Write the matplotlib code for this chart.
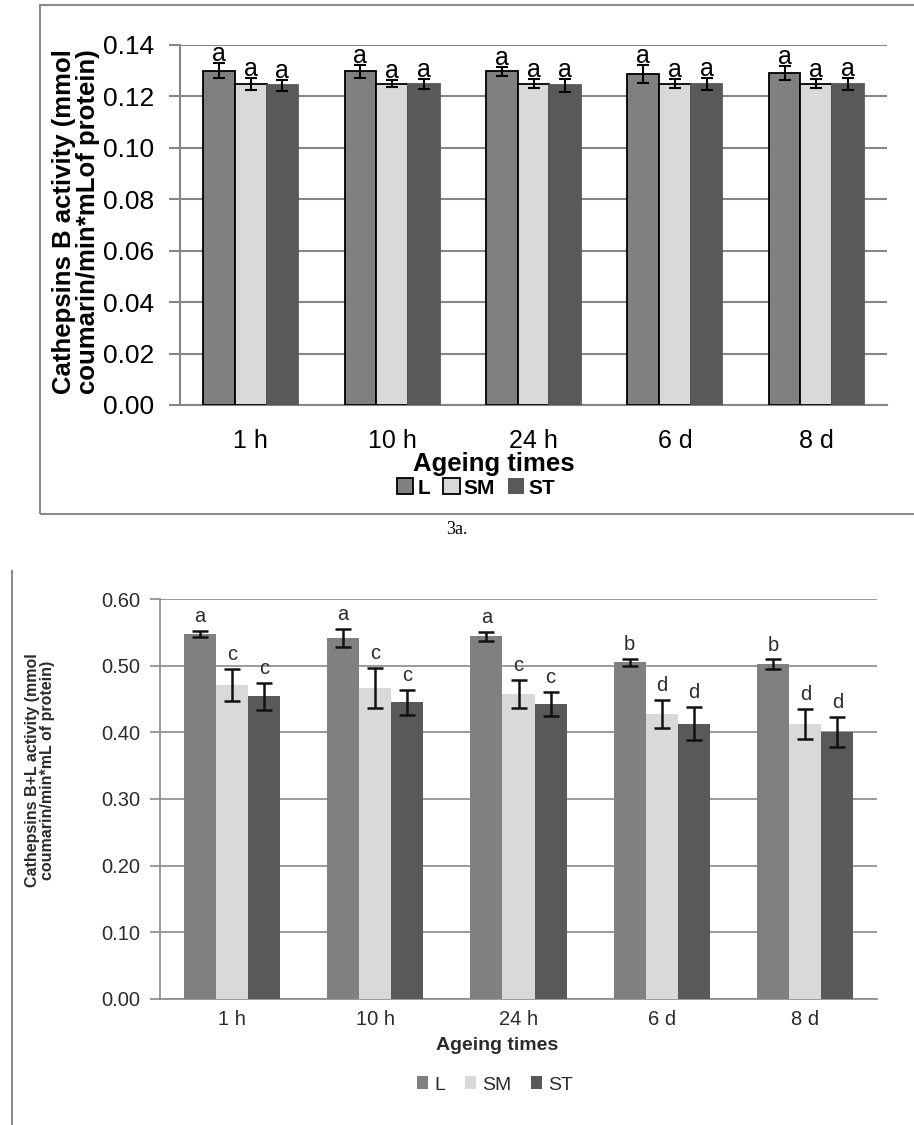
import matplotlib

matplotlib.use("Agg")
import matplotlib.pyplot as plt
import numpy as np
from matplotlib.lines import Line2D
from matplotlib.patches import Patch, Rectangle

plt.rcParams["font.family"] = ["Liberation Sans", "DejaVu Sans"]

times = ["1 h", "10 h", "24 h", "6 d", "8 d"]
groups = ["L", "SM", "ST"]
colors = ["#808080", "#d9d9d9", "#595959"]

# cathepsin B activity (upper chart)
b_mean = {
    "L": [0.1300, 0.1298, 0.1298, 0.1288, 0.1292],
    "SM": [0.1249, 0.1250, 0.1250, 0.1250, 0.1250],
    "ST": [0.1243, 0.1248, 0.1243, 0.1248, 0.1248],
}
b_err = {
    "L": [0.0030, 0.0025, 0.0018, 0.0034, 0.0027],
    "SM": [0.0023, 0.0012, 0.0016, 0.0016, 0.0016],
    "ST": [0.0020, 0.0020, 0.0025, 0.0024, 0.0023],
}
b_letters = {
    "L": ["a", "a", "a", "a", "a"],
    "SM": ["a", "a", "a", "a", "a"],
    "ST": ["a", "a", "a", "a", "a"],
}

# cathepsin B+L activity (lower chart)
bl_mean = {
    "L": [0.5475, 0.5415, 0.5440, 0.5050, 0.5025],
    "SM": [0.4714, 0.4665, 0.4575, 0.4280, 0.4130],
    "ST": [0.4539, 0.4450, 0.4425, 0.4130, 0.4005],
}
bl_err = {
    "L": [0.005, 0.0135, 0.007, 0.005, 0.007],
    "SM": [0.024, 0.030, 0.021, 0.021, 0.0225],
    "ST": [0.020, 0.019, 0.018, 0.025, 0.023],
}
bl_letters = {
    "L": ["a", "a", "a", "b", "b"],
    "SM": ["c", "c", "c", "d", "d"],
    "ST": ["c", "c", "c", "d", "d"],
}

W, H = 914, 1125
fig = plt.figure(figsize=(W / 100, H / 100), dpi=100)


def fx(px):
    return px / W


def fy(py):
    return 1 - py / H


x = np.arange(len(times))
width = 0.224
offsets = [-width, 0.0, width]

# ---- upper chart ----
grid_c = "#868686"
ax1 = fig.add_axes([fx(180), fy(405), fx(887) - fx(180), fy(45) - fy(405)])
edges = ["black", "black", "#595959"]
for g, off, c, ec in zip(groups, offsets, colors, edges):
    ax1.bar(x + off, b_mean[g], width, color=c, edgecolor=ec, linewidth=1.3, zorder=3)
    ax1.errorbar(x + off, b_mean[g], yerr=b_err[g], fmt="none", ecolor="black",
                 elinewidth=1.5, capsize=4.3, capthick=1.5, zorder=4)
    for xi, m, e, t in zip(x + off, b_mean[g], b_err[g], b_letters[g]):
        ax1.text(xi, m + e + 0.0008, t, ha="center", va="baseline", fontsize=18, zorder=5)

ax1.set_xlim(-0.5, 4.5)
ax1.set_ylim(0, 0.14)
ax1.set_yticks(np.arange(0, 0.1401, 0.02))
ax1.set_yticklabels([f"{v:.2f}" for v in np.arange(0, 0.1401, 0.02)], fontsize=19)
ax1.set_xticks(x)
ax1.set_xticklabels(times, fontsize=18)
ax1.tick_params(axis="x", length=0, pad=17)
ax1.tick_params(axis="y", length=8, width=1.5, color=grid_c, pad=10.5)
ax1.grid(axis="y", color=grid_c, linewidth=1.5, zorder=0)
ax1.set_axisbelow(True)
for s in ["top", "right"]:
    ax1.spines[s].set_visible(False)
for s in ["left", "bottom"]:
    ax1.spines[s].set_color(grid_c)
    ax1.spines[s].set_linewidth(1.5)

fig.text(fx(76), fy(222), "Cathepsins B activity (mmol\ncoumarin/min*mLof protein)",
         rotation=90, ha="center", va="center", fontsize=18.5, fontweight="bold",
         multialignment="center", linespacing=0.95)
fig.text(fx(494), fy(464), "Ageing times", ha="center", va="center",
         fontsize=18.5, fontweight="bold")
top_handles = [Patch(facecolor=c, edgecolor=ec, linewidth=1.3)
               for c, ec in zip(colors, ["black", "black", "none"])]
fig.legend(top_handles, groups, loc="center", bbox_to_anchor=(fx(476), fy(488)),
           ncol=3, frameon=False, handlelength=0.8, handleheight=0.8,
           handletextpad=0.2, columnspacing=0.6, borderpad=0,
           prop={"weight": "bold", "size": 15})

fig.add_artist(Rectangle((fx(40), fy(514)), 1.0, fy(5) - fy(514),
                         transform=fig.transFigure, fill=False,
                         edgecolor="#8c8c8c", linewidth=1.5))

fig.text(0.5, fy(530), "3a.", ha="center", va="center", fontsize=13,
         family=["Liberation Serif", "DejaVu Serif"])

# ---- lower chart ----
txt_c = "#2b2b2b"
grid2 = "#8a8a8a"
ax2 = fig.add_axes([fx(160), fy(999), fx(877) - fx(160), fy(599) - fy(999)])
for g, off, c in zip(groups, offsets, colors):
    ax2.bar(x + off, bl_mean[g], width, color=c, linewidth=0, zorder=3)
    ax2.errorbar(x + off, bl_mean[g], yerr=bl_err[g], fmt="none", ecolor="#111111",
                 elinewidth=1.8, capsize=6, capthick=1.8, zorder=4)
    for xi, m, e, t in zip(x + off, bl_mean[g], bl_err[g], bl_letters[g]):
        ax2.text(xi, m + e + 0.013, t, ha="center", va="baseline", fontsize=14.5,
                 color=txt_c, zorder=5)

ax2.set_xlim(-0.5, 4.5)
ax2.set_ylim(0, 0.6)
ax2.set_yticks(np.arange(0, 0.601, 0.1))
ax2.set_yticklabels([f"{v:.2f}" for v in np.arange(0, 0.601, 0.1)], fontsize=14.5,
                    color=txt_c)
ax2.set_xticks(x)
ax2.set_xticklabels(times, fontsize=14.5, color=txt_c)
ax2.tick_params(axis="x", length=0, pad=8)
ax2.tick_params(axis="y", length=7, width=1.2, color=grid2, pad=7)
ax2.grid(axis="y", color=grid2, linewidth=1.2, zorder=0)
ax2.set_axisbelow(True)
for s in ["top", "right"]:
    ax2.spines[s].set_visible(False)
for s in ["left", "bottom"]:
    ax2.spines[s].set_color(grid2)
    ax2.spines[s].set_linewidth(1.2)

fig.text(fx(40), fy(770), "Cathepsins B+L activity (mmol\ncoumarin/min*mL of protein)",
         rotation=90, ha="center", va="center", fontsize=11.5, fontweight="bold",
         color=txt_c, multialignment="center", linespacing=0.95)
fig.text(fx(497), fy(1045), "Ageing times", ha="center", va="center",
         fontsize=14, fontweight="bold", color=txt_c)
bot_handles = [Patch(facecolor=c, edgecolor="none") for c in colors]
fig.legend(bot_handles, groups, loc="center", bbox_to_anchor=(fx(495), fy(1085)),
           ncol=3, frameon=False, handlelength=0.6, handleheight=0.6,
           handletextpad=0.3, columnspacing=1.0, borderpad=0,
           prop={"size": 14}, labelcolor=txt_c)

fig.add_artist(Line2D([fx(12), fx(12)], [fy(571), 0], transform=fig.transFigure,
                      color="#8c8c8c", linewidth=1.5))

fig.savefig("out.png", dpi=100)
